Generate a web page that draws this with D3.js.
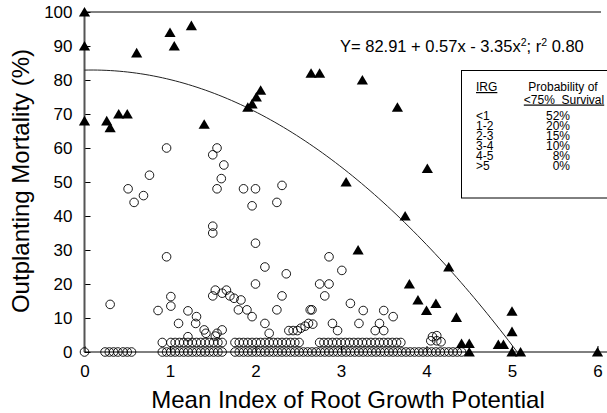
<!DOCTYPE html>
<html>
<head>
<meta charset="utf-8">
<script src="https://cdn.jsdelivr.net/npm/d3@7"></script>
<style>
  html, body { margin: 0; padding: 0; background: #fff; }
  svg { display: block; font-family: "Liberation Sans", Arial, sans-serif; }
</style>
</head>
<body>
<svg id="chart" width="607" height="413"></svg>
<script>
// Seedlings lots: mean IRG vs. outplanting mortality
// Lots with >=75% survival (open circles), sitting on 0% mortality
const zeroRowX = [0, 0.24, 0.29, 0.34, 0.39, 0.45, 0.50, 0.55,
  0.91, 0.96, 1.01, 1.06, 1.11, 1.16, 1.21, 1.26, 1.31, 1.36, 1.41, 1.46, 1.51, 1.56, 1.61,
  1.76, 1.81, 1.86, 1.91, 1.96, 2.01, 2.06, 2.11, 2.16, 2.21, 2.26, 2.31, 2.36, 2.41, 2.46,
  2.51, 2.56, 2.61, 2.66, 2.71, 2.76, 2.81, 2.86, 2.91, 2.96, 3.01, 3.06, 3.11, 3.16, 3.21,
  3.26, 3.31, 3.36, 3.41, 3.46, 3.51, 3.56, 3.61, 3.66, 3.71, 3.76, 3.81, 3.86, 3.91, 3.96,
  4.01, 4.06, 4.11, 4.16, 4.21, 4.26, 4.31, 4.36, 4.41];

// Lots with ~3% mortality
const lowRowX = [0.91, 1.01, 1.06, 1.11, 1.16, 1.21, 1.26, 1.31, 1.36, 1.41, 1.46, 1.51, 1.56, 1.61,
  1.76, 1.81, 1.86, 1.91, 1.96, 2.01, 2.06, 2.11, 2.16, 2.21, 2.26, 2.31, 2.36, 2.41, 2.46, 2.51,
  2.75, 2.80, 2.85, 2.90, 2.95, 3.00, 3.05, 3.10, 3.15, 3.20, 3.25, 3.30, 3.35, 3.40, 3.45,
  3.50, 3.55, 3.60, 3.65, 3.70];
const lowRowY = 2.8;

// Remaining open-circle lots
const circleX = [0.96, 0.76, 0.51, 0.69, 0.58, 0.96, 0.30,
  1.55, 1.50, 1.63, 1.60, 1.55, 1.50, 1.50,
  1.86, 2.00, 1.96, 2.25, 2.31, 2.00, 2.11, 2.36, 2.00,
  2.86, 3.01, 2.75, 2.86, 2.31, 2.81, 2.25, 2.64, 2.66,
  3.11, 3.26, 3.50, 3.61, 2.11, 2.16,
  2.39, 2.44, 2.49, 2.53, 2.58, 2.62, 2.67,
  2.90, 2.96, 3.21, 3.45, 3.40, 3.50,
  4.07, 4.12, 4.05, 4.12, 4.17,
  0.86, 1.01, 1.01, 1.21, 1.10, 1.31, 1.30, 1.21, 1.40, 1.42, 1.53, 1.55, 1.61,
  1.53, 1.50, 1.61, 1.66, 1.70, 1.75, 1.83, 1.80, 1.90, 1.96];
const circleY = [60, 52, 48, 46, 44, 28, 14,
  60, 58, 55, 51, 48, 37, 35,
  48, 48, 43, 44, 49, 32, 25, 23, 20,
  28, 24, 20, 20, 16.5, 16.5, 12.4, 12.4, 12.4,
  14.3, 12.2, 12.2, 10.4, 8.4, 5.5,
  6.3, 6.3, 6.3, 7.0, 7.6, 8.4, 8.2,
  8.4, 6.3, 8.4, 8.4, 6.3, 6.3,
  4.5, 4.8, 3.3, 3.3, 3.0,
  12.2, 16.3, 13.5, 12.1, 8.4, 10.4, 8.4, 4.5, 6.5, 5.5, 4.7, 5.5, 6.5,
  18.2, 16.5, 17.3, 18.2, 16.5, 15.8, 15.3, 12.4, 12.4, 10.4];

// Lots with <75% survival (filled triangles)
const triX = [0, 0, 0, 0.26, 0.30, 0.40, 0.50, 0.61, 1.00, 1.05, 1.25, 1.40,
  1.91, 1.96, 2.01, 2.06, 2.65, 2.75, 3.25, 3.66, 3.06, 3.20, 4.01, 3.75,
  4.26, 3.80, 3.90, 4.00, 4.11, 4.35, 5.00, 5.00, 4.41, 4.50, 4.50, 4.84,
  4.90, 5.00, 5.10, 6.00];
const triY = [100, 90, 68, 68, 66, 70, 70, 88, 94, 90, 96, 67,
  72, 73, 75, 77, 82, 82, 80, 72, 50, 30, 54, 40,
  25, 20, 15.3, 12.2, 14.3, 10.2, 12, 6, 2.5, 2.5, 0, 2.2,
  2.2, 0, 0, 0];

// Fitted quadratic: Y = b0 + b1*x + b2*x^2
const coef = [82.91, 0.57, -3.35];

const xTicks = [0, 1, 2, 3, 4, 5, 6];
const yTicks = [0, 10, 20, 30, 40, 50, 60, 70, 80, 90, 100];

// Survival table
const irgClasses = ["<1", "1-2", "2-3", "3-4", "4-5", ">5"];
const probSurvival = ["52%", "20%", "15%", "10%", "8%", "0%"];

const svg = d3.select("#chart");
const x = d3.scaleLinear().domain([0, 6]).range([84.5, 597.5]);
const y = d3.scaleLinear().domain([0, 100]).range([352, 12]);

// axes
const yAxis = d3.axisLeft(y).tickValues(yTicks).tickFormat(d3.format("d"))
  .tickSizeInner(-6).tickSizeOuter(0).tickPadding(12);
const gy = svg.append("g").attr("transform", `translate(${x(0)},0)`).call(yAxis);
gy.select(".domain").remove();
gy.selectAll(".tick line").attr("stroke", "#000");
gy.selectAll("text").attr("font-size", 17).attr("fill", "#000")
  .attr("font-family", "Liberation Sans, Arial, sans-serif");

const xAxis = d3.axisBottom(x).tickValues(xTicks).tickFormat(d3.format("d"))
  .tickSizeInner(-6).tickSizeOuter(0).tickPadding(13);
const gx = svg.append("g").attr("transform", `translate(0,${y(0)})`).call(xAxis);
gx.select(".domain").remove();
gx.selectAll(".tick line").attr("stroke", "#000");
gx.selectAll("text").attr("font-size", 17).attr("fill", "#000")
  .attr("font-family", "Liberation Sans, Arial, sans-serif");

// frame lines
svg.append("line").attr("x1", x(0)).attr("x2", x(0)).attr("y1", y(100)).attr("y2", y(0))
  .attr("stroke", "#555").attr("stroke-width", 2);
svg.append("line").attr("x1", x(0)).attr("x2", 607).attr("y1", y(0)).attr("y2", y(0))
  .attr("stroke", "#000").attr("stroke-width", 1);
svg.append("line").attr("x1", x(0)).attr("x2", 601).attr("y1", y(100)).attr("y2", y(100))
  .attr("stroke", "#000").attr("stroke-width", 1);

// regression curve, from x = 0 to where it reaches 0% mortality
const fit = v => coef[0] + coef[1] * v + coef[2] * v * v;
const root = (-coef[1] - Math.sqrt(coef[1] * coef[1] - 4 * coef[2] * coef[0])) / (2 * coef[2]);
const curveXs = d3.range(0, 101).map(i => root * i / 100);
svg.append("path")
  .attr("d", d3.line().x(d => x(d)).y(d => y(fit(d)))(curveXs))
  .attr("fill", "none").attr("stroke", "#222").attr("stroke-width", 1);

// open circles
const circles = [
  ...zeroRowX.map(v => [v, 0]),
  ...lowRowX.map(v => [v, lowRowY]),
  ...circleX.map((v, i) => [v, circleY[i]])
];
svg.append("g").selectAll("circle").data(circles).join("circle")
  .attr("cx", d => x(d[0])).attr("cy", d => y(d[1])).attr("r", 4.3)
  .attr("fill", "none").attr("stroke", "#000").attr("stroke-width", 0.9);

// filled triangles
const triPath = "M0,-5L5.6,4.6L-5.6,4.6Z";
svg.append("g").selectAll("path").data(triX.map((v, i) => [v, triY[i]])).join("path")
  .attr("d", triPath)
  .attr("transform", d => `translate(${x(d[0])},${y(d[1])})`)
  .attr("fill", "#000");

// equation
const eq = svg.append("text").attr("x", 340).attr("y", 52).attr("font-size", 16.5).attr("fill", "#000");
eq.append("tspan").text("Y= 82.91 + 0.57x - 3.35x");
eq.append("tspan").attr("font-size", 10.5).attr("dy", -6).text("2");
eq.append("tspan").attr("dy", 6).text("; r");
eq.append("tspan").attr("font-size", 10.5).attr("dy", -6).text("2");
eq.append("tspan").attr("dy", 6).text(" 0.80");

// axis titles
svg.append("text").attr("x", 348).attr("y", 408).attr("text-anchor", "middle")
  .attr("font-size", 24).attr("fill", "#000").text("Mean Index of Root Growth Potential");
svg.append("text").attr("transform", "translate(29,181) rotate(-90)").attr("text-anchor", "middle")
  .attr("font-size", 24).attr("fill", "#000").text("Outplanting Mortality (%)");

// survival table
const tbl = svg.append("g");
tbl.append("rect").attr("x", 461.5).attr("y", 70.5).attr("width", 160).attr("height", 127.5)
  .attr("fill", "#fff").attr("stroke", "#000").attr("stroke-width", 1);
tbl.append("text").attr("x", 476).attr("y", 91).attr("font-size", 12)
  .style("text-decoration", "underline").text("IRG");
tbl.append("text").attr("x", 563).attr("y", 91).attr("font-size", 12).attr("text-anchor", "middle")
  .text("Probability of");
tbl.append("text").attr("x", 564).attr("y", 103.5).attr("font-size", 12).attr("text-anchor", "middle")
  .style("text-decoration", "underline").style("white-space", "pre").text("<75%  Survival");
irgClasses.forEach((c, i) => {
  tbl.append("text").attr("x", 476).attr("y", 120 + i * 10).attr("font-size", 12).text(c);
  tbl.append("text").attr("x", 570).attr("y", 120 + i * 10).attr("font-size", 12)
    .attr("text-anchor", "end").text(probSurvival[i]);
});
</script>
</body>
</html>
